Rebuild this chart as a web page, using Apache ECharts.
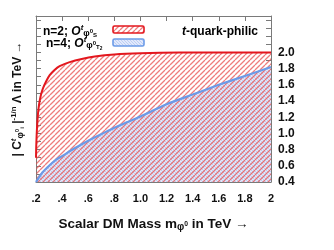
<!DOCTYPE html>
<html>
<head>
<meta charset="utf-8">
<script src="https://cdn.jsdelivr.net/npm/echarts@6/dist/echarts.min.js"></script>
<style>html,body{margin:0;padding:0;background:#fff}#c{width:334px;height:250px}</style>
</head>
<body>
<div id="c"></div>
<script>
// ---- data ----
const massRed   = [0.2, 0.202, 0.205, 0.208, 0.212, 0.218, 0.228, 0.24, 0.254, 0.28, 0.305, 0.34, 0.381, 0.458, 0.55, 0.65, 0.8, 1.0, 1.3, 2.0];
const lambdaRed = [0.70, 0.85, 0.98, 1.08, 1.18, 1.29, 1.40, 1.49, 1.56, 1.65, 1.72, 1.78, 1.83, 1.88, 1.92, 1.95, 1.975, 1.99, 2.0, 2.0];
const massBlue   = [0.2, 0.22, 0.25, 0.3, 0.35, 0.4, 0.5, 0.6, 0.7, 0.8, 0.9, 1.0, 1.2, 1.4, 1.6, 1.8, 2.0];
const lambdaBlue = [0.40, 0.45, 0.52, 0.60, 0.67, 0.72, 0.82, 0.91, 0.99, 1.07, 1.14, 1.21, 1.36, 1.48, 1.60, 1.71, 1.82];
const xTickLabels = {2:'.2',4:'.4',6:'.6',8:'.8',10:'1.0',12:'1.2',14:'1.4',16:'1.6',18:'1.8',20:'2'};
const yLabelMax = 2.0;

function hatch(size, bg, color, lw, dir) {
  const c = document.createElement('canvas');
  c.width = c.height = size;
  const g = c.getContext('2d');
  if (bg) { g.fillStyle = bg; g.fillRect(0, 0, size, size); }
  g.strokeStyle = color; g.lineWidth = lw; g.beginPath();
  for (let k = -1; k <= 1; k++) {
    if (dir === '/') { g.moveTo(k*size, size); g.lineTo(k*size + size, 0); }
    else { g.moveTo(k*size, 0); g.lineTo(k*size + size, size); }
  }
  g.stroke();
  return c;
}
const redHatch = hatch(5, null, 'rgba(232,80,80,0.75)', 1.3, '/');
const blueHatch = hatch(3, '#e2e9fb', '#b3c7f2', 0.8, '\\');

const F = 'Liberation Sans, Arial, sans-serif';
function richSet(fs) {
  return {
    b: {fontSize: fs, fontWeight: 'bold', fontFamily: F, color: '#111'},
    bi: {fontSize: fs, fontWeight: 'bold', fontStyle: 'italic', fontFamily: F, color: '#111'},
    sup: {fontSize: fs*0.65, fontWeight: 'bold', fontStyle: 'italic', fontFamily: F, color: '#111', padding: [0,0,fs*0.55,0]},
    supn: {fontSize: fs*0.65, fontWeight: 'bold', fontFamily: F, color: '#111', padding: [0,0,fs*0.55,0]},
    sub: {fontSize: fs*0.75, fontWeight: 'bold', fontFamily: F, color: '#111', padding: [fs*0.45,0,0,0]},
    subsup: {fontSize: fs*0.5, fontWeight: 'bold', fontFamily: F, color: '#111', padding: [0,0,fs*0.05,0]},
    subsub: {fontSize: fs*0.5, fontWeight: 'bold', fontFamily: F, color: '#111', padding: [fs*0.75,0,0,0]},
    subsub2: {fontSize: fs*0.4, fontWeight: 'bold', fontFamily: F, color: '#111', padding: [fs*0.95,0,0,0]}
  };
}

const chart = echarts.init(document.getElementById('c'));
const axisCol = '#7a7a7a';
const pairs = (xs, ys) => xs.map((x, i) => [x, ys[i]]);

chart.setOption({
  animation: false,
  grid: {left: 36, right: 63, top: 16, bottom: 68},
  xAxis: [
    {type: 'value', position: 'bottom', min: 0.2, max: 2, interval: 0.2,
     axisLine: {show: true, lineStyle: {color: axisCol}},
     axisTick: {show: true, inside: true, length: 5, lineStyle: {color: axisCol}},
     splitLine: {show: false},
     axisLabel: {margin: 11, fontSize: 11, fontWeight: 'bold', fontFamily: F, color: '#111',
       formatter: v => xTickLabels[Math.round(v*10)] || ''},
     name: '{b|Scalar DM Mass m}{sub|φ}{subsup|0}{b| in TeV →}',
     nameLocation: 'middle', nameGap: 34,
     nameTextStyle: {rich: richSet(13.5)}},
    {type: 'value', position: 'top', min: 0.2, max: 2, interval: 0.2,
     axisLine: {show: true, lineStyle: {color: axisCol}},
     axisTick: {show: true, inside: true, length: 5, lineStyle: {color: axisCol}},
     splitLine: {show: false}, axisLabel: {show: false}}
  ],
  yAxis: [
    {type: 'value', position: 'right', min: 0.4, max: 2.45, interval: 0.1,
     axisLine: {show: true, lineStyle: {color: axisCol}},
     axisTick: {show: true, inside: true, length: 5, lineStyle: {color: axisCol}},
     splitLine: {show: false},
     axisLabel: {margin: 7, fontSize: 12, fontWeight: 'bold', fontFamily: F, color: '#111',
       formatter: v => { const k = Math.round(v*10); return (k % 2 === 0 && v <= yLabelMax + 1e-6) ? (k/10).toFixed(1) : ''; }}},
    {type: 'value', position: 'left', min: 0.4, max: 2.45, interval: 0.1,
     axisLine: {show: true, lineStyle: {color: axisCol}},
     axisTick: {show: true, inside: true, length: 5, lineStyle: {color: axisCol}},
     splitLine: {show: false}, axisLabel: {show: false},
     name: '{b|| C}{sup|t}{sub|φ}{subsup|0}{subsub|i}{b| |}{supn|-1/n}{b| Λ in TeV →}',
     nameLocation: 'middle', nameRotate: 90, nameGap: 11,
     nameTextStyle: {rich: richSet(12)}}
  ],
  series: [
    {type: 'line', name: 'blueFill', data: pairs(massBlue, lambdaBlue), showSymbol: false, smooth: 0.2,
     lineStyle: {width: 0}, areaStyle: {origin: 'start', color: {image: blueHatch, repeat: 'repeat'}, opacity: 1}, z: 1},
    {type: 'line', name: 'redFill', data: pairs(massRed, lambdaRed), showSymbol: false, smooth: 0.15,
     lineStyle: {width: 0}, areaStyle: {origin: 'start', color: {image: redHatch, repeat: 'repeat'}, opacity: 1}, z: 2},
    {type: 'line', name: 'blueLine', data: pairs(massBlue, lambdaBlue), showSymbol: false, smooth: 0.2,
     lineStyle: {width: 2.2, color: '#6b9be8'}, z: 3},
    {type: 'line', name: 'redLine', data: pairs(massRed, lambdaRed), showSymbol: false, smooth: 0.15,
     lineStyle: {width: 2, color: '#e3171e'}, z: 4}
  ],
  graphic: [
    {type: 'text', left: 182, top: 26, style: {text: '{bi|t}{b|-quark-philic}', rich: richSet(12)}},
    {type: 'text', left: 43, top: 24, style: {text: '{b|n=2; }{bi|O}{sup|t}{sub|φ}{subsup|0}{subsub|S}', rich: richSet(12)}},
    {type: 'text', left: 46, top: 36, style: {text: '{b|n=4; }{bi|O}{sup|t}{sub|φ}{subsup|0}{subsub|T}{subsub2|2}', rich: richSet(12)}},
    {type: 'rect', shape: {x: 113, y: 26, width: 31, height: 7, r: 1.5},
     style: {fill: {image: redHatch, repeat: 'repeat'}, stroke: '#e3171e', lineWidth: 1.6}},
    {type: 'rect', shape: {x: 113, y: 39, width: 31, height: 7, r: 1.5},
     style: {fill: {image: blueHatch, repeat: 'repeat'}, stroke: '#6b9be8', lineWidth: 1.6}}
  ]
});
</script>
</body>
</html>
